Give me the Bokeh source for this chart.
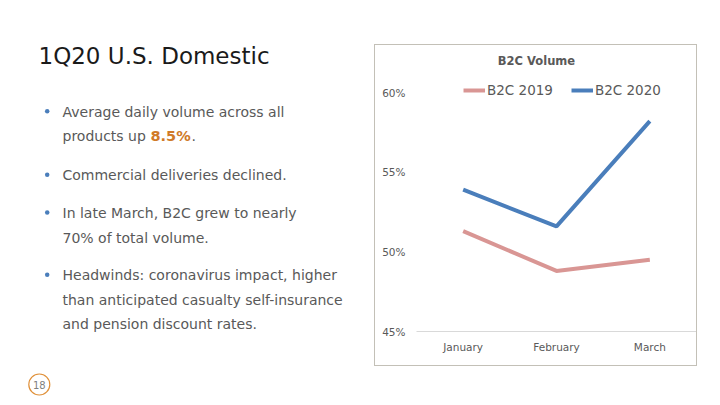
from bokeh.plotting import figure
from bokeh.layouts import row, column
from bokeh.models import (FactorRange, Range1d, Label, Legend, LegendItem, Spacer,
                          FixedTicker, PrintfTickFormatter)
from bokeh.embed import file_html
from bokeh.resources import INLINE

# ---------------- data ----------------
months = ["January", "February", "March"]
b2c_2019 = [51.3, 48.8, 49.5]
b2c_2020 = [53.9, 51.6, 58.2]
y_ticks = [45, 50, 55, 60]
series_names = ["B2C 2019", "B2C 2020"]
chart_title = "B2C Volume"

slide_title = "1Q20 U.S. Domestic"
bullet_lines = [
    ["Average daily volume across all", "products up "],
    ["Commercial deliveries declined."],
    ["In late March, B2C grew to nearly", "70% of total volume."],
    ["Headwinds: coronavirus impact, higher",
     "than anticipated casualty self-insurance",
     "and pension discount rates."],
]
highlight = "8.5%"
page_number = "18"

# ---------------- styles ----------------
FONT = "DejaVu Sans"
GREY = "#595959"
C2019 = "#d99694"
C2020 = "#4a7ebb"
ORANGE = "#d07a28"

# ================= left: slide text =================
LW, LH = 374, 405
left = figure(width=LW, height=LH, x_range=Range1d(0, LW), y_range=Range1d(LH, 0),
              output_backend="svg", toolbar_location=None,
              x_axis_type=None, y_axis_type=None,
              min_border=0, min_border_left=0, min_border_right=0,
              min_border_top=0, min_border_bottom=0)
left.outline_line_color = None
left.grid.grid_line_color = None
left.background_fill_color = "white"
left.border_fill_color = "white"

left.add_layout(Label(x=38, y=55, text=slide_title, text_align="left",
                      text_baseline="middle", text_font=FONT,
                      text_font_size="23px", text_color="#1a1a1a"))

centers = [[111.3, 135.6], [174.8], [212.5, 237.3], [274.8, 299, 323]]
bullet_x, bullet_y = [], []
for para, cys in zip(bullet_lines, centers):
    bullet_x.append(46.7)
    bullet_y.append(cys[0] - 0.6)
    for line, cy in zip(para, cys):
        left.add_layout(Label(x=62, y=cy, text=line, text_align="left",
                              text_baseline="middle", text_font=FONT,
                              text_font_size="14px", text_color=GREY))
left.scatter(x=bullet_x, y=bullet_y, size=4.5, marker="circle",
             fill_color="#4a7ebb", line_color=None)

left.add_layout(Label(x=150, y=135.6, text=highlight, text_align="left",
                      text_baseline="middle", text_font=FONT,
                      text_font_size="14.5px", text_font_style="bold",
                      text_color=ORANGE))
left.add_layout(Label(x=191, y=135.6, text=".", text_align="left",
                      text_baseline="middle", text_font=FONT,
                      text_font_size="14px", text_color=GREY))

# page number in circle
left.scatter(x=[38.8], y=[384], size=21, marker="circle", fill_color=None,
             line_color="#e0913a", line_width=1.2)
left.add_layout(Label(x=38.8, y=384, text=page_number, text_align="center",
                      text_baseline="middle", text_font=FONT,
                      text_font_size="10px", text_color="#7f7f7f"))

# ================= right: chart =================
CX0, CY0 = 375, 45          # chart element origin in page px
CW, CH = 321, 320
FL, FR, FT, FB = 41, 0, 4, 34

chart = figure(width=CW, height=CH, x_range=FactorRange(*months),
               y_range=Range1d(45, 62.70),
               output_backend="svg", toolbar_location=None,
               min_border_left=FL, min_border_right=FR,
               min_border_top=FT, min_border_bottom=FB,
               styles={"outline": "1px solid #c3c0b7", "outline-offset": "0px"})
chart.outline_line_color = None
chart.background_fill_color = "white"
chart.border_fill_color = "white"
chart.grid.grid_line_color = None

r19 = chart.line(months, b2c_2019, line_color=C2019, line_width=4)
r20 = chart.line(months, b2c_2020, line_color=C2020, line_width=4)

chart.xaxis.axis_line_color = "#d9d9d9"
chart.xaxis.major_tick_out = 0
chart.xaxis.major_tick_in = 0
chart.xaxis.major_tick_line_color = None
chart.xaxis.minor_tick_line_color = None
chart.xaxis.major_label_standoff = 9
chart.xaxis.major_label_text_font = FONT
chart.xaxis.major_label_text_font_size = "10.5px"
chart.xaxis.major_label_text_color = GREY

chart.yaxis.ticker = FixedTicker(ticks=y_ticks)
chart.yaxis.formatter = PrintfTickFormatter(format="%d%%")
chart.yaxis.axis_line_color = None
chart.yaxis.major_tick_out = 0
chart.yaxis.major_tick_in = 0
chart.yaxis.major_tick_line_color = None
chart.yaxis.minor_tick_line_color = None
chart.yaxis.major_label_standoff = 11
chart.yaxis.major_label_text_font = FONT
chart.yaxis.major_label_text_font_size = "10.5px"
chart.yaxis.major_label_text_color = GREY

# page px -> screen offsets from chart frame bottom-left
def sx(px):
    return px - CX0 - FL

def sy(py):
    return (CH - FB) - (py - CY0)

chart.add_layout(Label(x=sx(536), y=sy(60), x_units="screen", y_units="screen",
                       text=chart_title, text_align="center", text_baseline="middle",
                       text_font=FONT, text_font_size="11.5px", text_font_style="bold",
                       text_color=GREY))

legend = Legend(items=[LegendItem(label=series_names[0], renderers=[r19]),
                       LegendItem(label=series_names[1], renderers=[r20])],
                location=(sx(463), sy(98)), orientation="horizontal",
                glyph_width=22, glyph_height=16, label_height=16, label_standoff=2,
                spacing=18, padding=0, margin=0, border_line_color=None,
                background_fill_alpha=0, label_text_font=FONT,
                label_text_font_size="13.5px", label_text_color=GREY)
chart.add_layout(legend)

layout = row(left, Spacer(width=CX0 - LW, height=LH),
             column(Spacer(width=CW, height=CY0), chart))

open("out.html", "w").write(file_html(layout, INLINE))
